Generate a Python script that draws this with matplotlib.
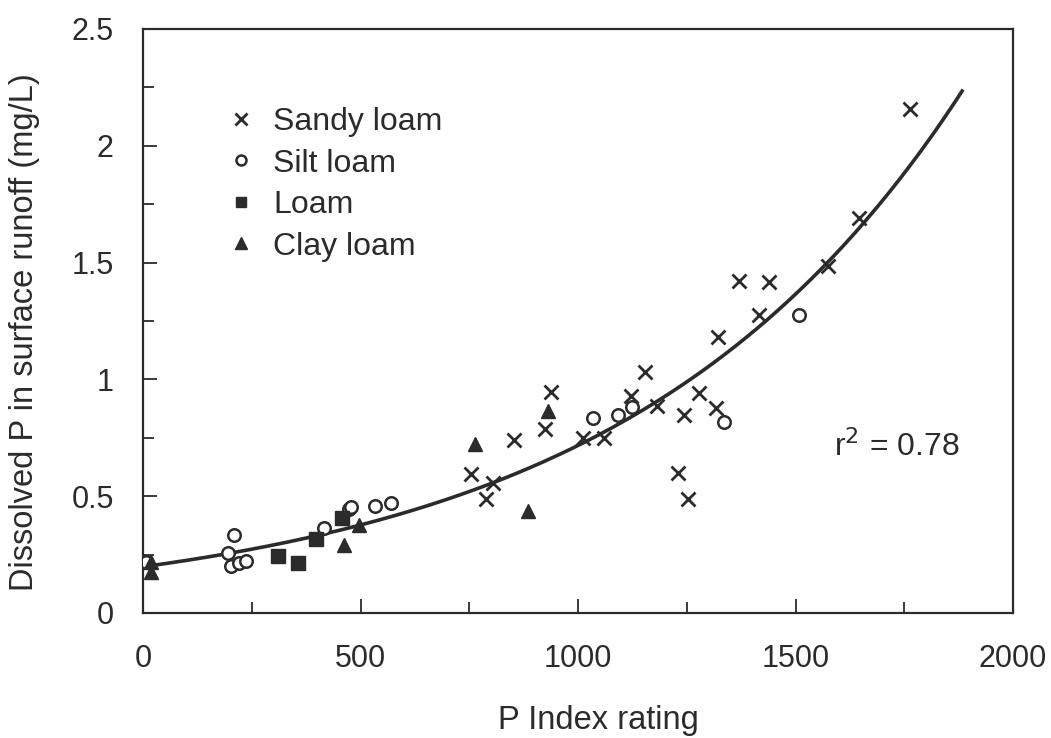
import numpy as np
import matplotlib
matplotlib.use("Agg")
import matplotlib.pyplot as plt
from matplotlib.ticker import MultipleLocator

plt.rcParams['font.family'] = ['Liberation Sans', 'DejaVu Sans']

# Sandy loam
sandy_x = [754, 789, 804, 853, 924, 938, 1011, 1060, 1122, 1154, 1182, 1244, 1278,
           1317, 1230, 1253, 1370, 1439, 1416, 1322, 1575, 1646, 1763]
sandy_y = [0.594, 0.49, 0.555, 0.74, 0.786, 0.945, 0.748, 0.748, 0.93, 1.03, 0.885,
           0.846, 0.94, 0.876, 0.598, 0.49, 1.423, 1.415, 1.274, 1.18, 1.487, 1.692, 2.158]

# Silt loam
silt_x = [8, 195, 202, 209, 221, 237, 416, 474, 478, 533, 570, 1034, 1092, 1124, 1336, 1508]
silt_y = [0.22, 0.256, 0.2, 0.333, 0.214, 0.222, 0.363, 0.444, 0.455, 0.457, 0.47,
          0.833, 0.846, 0.88, 0.816, 1.274]

# Loam
loam_x = [310, 356, 398, 457]
loam_y = [0.244, 0.214, 0.316, 0.406]

# Clay loam
clay_x = [18, 18, 462, 496, 763, 930, 885]
clay_y = [0.218, 0.175, 0.29, 0.376, 0.722, 0.863, 0.436]

# exponential fit shown in the figure
fit_a = 0.198
fit_b = 0.001287
fit_xmax = 1883

ink = '#2b2b2b'

fig = plt.figure(figsize=(10.51, 7.38), dpi=100)
ax = fig.add_axes([143/1051, 1 - 613/738, (1013-143)/1051, (613-29)/738])

fx = np.linspace(0, fit_xmax, 300)
ax.plot(fx, fit_a*np.exp(fit_b*fx), color=ink, lw=2.6, zorder=2)

ax.plot(sandy_x, sandy_y, 'x', ms=10, mew=2.0, color=ink, label='Sandy loam', zorder=3)
ax.plot(silt_x, silt_y, 'o', ms=9, mew=1.8, mfc='white', mec=ink, label='Silt loam', zorder=3)
ax.plot(loam_x, loam_y, 's', ms=9.5, color=ink, label='Loam', zorder=3)
ax.plot(clay_x, clay_y, '^', ms=10.5, color=ink, label='Clay loam', zorder=3)

ax.set_xlim(0, 2000)
ax.set_ylim(0, 2.5)
ax.xaxis.set_major_locator(MultipleLocator(500))
ax.xaxis.set_minor_locator(MultipleLocator(250))
ax.yaxis.set_major_locator(MultipleLocator(0.5))
ax.yaxis.set_minor_locator(MultipleLocator(0.25))
ax.set_yticks([0, 0.5, 1, 1.5, 2, 2.5])
ax.set_yticklabels(['0', '0.5', '1', '1.5', '2', '2.5'])

ax.tick_params(which='both', direction='in', top=False, right=False,
               colors=ink, width=1.3, labelsize=22)
ax.tick_params(which='major', length=10)
ax.tick_params(which='minor', length=8)
ax.tick_params(axis='x', pad=22)
ax.tick_params(axis='y', pad=21)
for s in ax.spines.values():
    s.set_linewidth(1.6)
    s.set_color(ink)

ax.set_xlabel('P Index rating', fontsize=23.5, color=ink)
ax.set_ylabel('Dissolved P in surface runoff (mg/L)', fontsize=23.5, color=ink)
ax.xaxis.set_label_coords(0.524, -0.157)
ax.yaxis.set_label_coords(-0.118, 0.481)

ax.text(1588, 0.71, 'r$^2$ = 0.78', fontsize=23, color=ink, ha='left', va='center')

ax.legend(loc='upper left', bbox_to_anchor=(225/1051, 1 - 107/738),
          bbox_transform=fig.transFigure, frameon=False, fontsize=23,
          markerscale=0.8, handlelength=1.0, handletextpad=0.5,
          labelspacing=0.36, borderpad=0, borderaxespad=0, labelcolor=ink)

fig.savefig('out.png', dpi=100)
